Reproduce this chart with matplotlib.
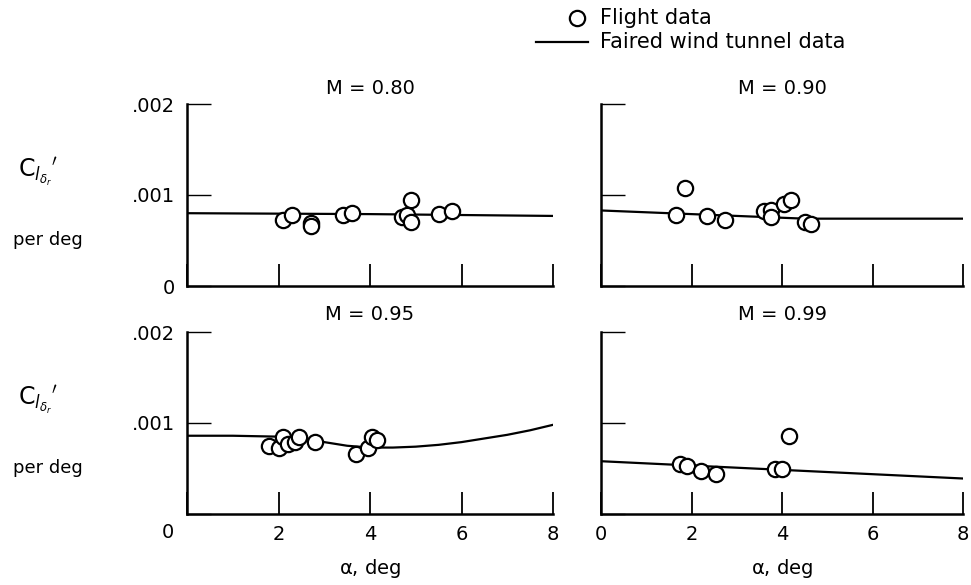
import matplotlib
matplotlib.use("Agg")
import matplotlib.pyplot as plt
from matplotlib.lines import Line2D

plt.rcParams['font.family'] = ['DejaVu Sans']
plt.rcParams['mathtext.fontset'] = 'dejavusans'

# ---- data ----
mach_titles = ["M = 0.80", "M = 0.90", "M = 0.95", "M = 0.99"]

# M = 0.80
flt_a_080 = [2.1, 2.3, 2.7, 2.7, 3.4, 3.6, 4.7, 4.8, 4.9, 4.9, 5.5, 5.8]
flt_c_080 = [0.00072, 0.00078, 0.00069, 0.00066, 0.00078, 0.00080, 0.00076, 0.00078, 0.00095, 0.00070, 0.00079, 0.00082]
wt_a_080 = [0, 2, 4, 6, 8]
wt_c_080 = [0.00080, 0.000795, 0.00079, 0.00078, 0.00077]

# M = 0.90
flt_a_090 = [1.65, 1.85, 2.35, 2.75, 3.6, 3.75, 3.75, 4.05, 4.2, 4.5, 4.65]
flt_c_090 = [0.00078, 0.00108, 0.00077, 0.00072, 0.00082, 0.00083, 0.00076, 0.00090, 0.00094, 0.00070, 0.00068]
wt_a_090 = [0, 1, 2, 3, 4, 4.5, 5, 6, 7, 8]
wt_c_090 = [0.00083, 0.00081, 0.00079, 0.00077, 0.00075, 0.00074, 0.00074, 0.00074, 0.00074, 0.00074]

# M = 0.95
flt_a_095 = [1.8, 2.0, 2.1, 2.2, 2.35, 2.45, 2.8, 3.7, 3.95, 4.05, 4.15]
flt_c_095 = [0.00075, 0.00073, 0.00085, 0.00077, 0.00079, 0.00085, 0.00079, 0.00066, 0.00073, 0.00085, 0.00081]
wt_a_095 = [0, 1, 2, 2.5, 3, 3.5, 4, 4.5, 5, 5.5, 6, 6.5, 7, 7.5, 8]
wt_c_095 = [0.00086, 0.00086, 0.00085, 0.00083, 0.00079, 0.00075, 0.00073, 0.00073, 0.00074, 0.00076, 0.00079, 0.00083, 0.00087, 0.00092, 0.00098]

# M = 0.99
flt_a_099 = [1.75, 1.9, 2.2, 2.55, 3.85, 4.0, 4.15]
flt_c_099 = [0.00055, 0.00053, 0.00047, 0.00044, 0.00050, 0.00050, 0.00086]
wt_a_099 = [0, 8]
wt_c_099 = [0.00058, 0.00039]

x_ticks = [0, 2, 4, 6, 8]
y_ticks = [0, 0.001, 0.002]
y_ticklabels = ["0", ".001", ".002"]

flights = [(flt_a_080, flt_c_080), (flt_a_090, flt_c_090), (flt_a_095, flt_c_095), (flt_a_099, flt_c_099)]
tunnels = [(wt_a_080, wt_c_080), (wt_a_090, wt_c_090), (wt_a_095, wt_c_095), (wt_a_099, wt_c_099)]

W, H = 971, 585
fig = plt.figure(figsize=(W / 100, H / 100), dpi=100)

def box(x0, x1, ytop, ybot):
    return [x0 / W, 1 - ybot / H, (x1 - x0) / W, (ybot - ytop) / H]

rects = [box(187, 553, 104, 286), box(601, 963, 104, 286),
         box(187, 553, 332, 514), box(601, 963, 332, 514)]
title_y = [88, 88, 315, 315]

for i, r in enumerate(rects):
    ax = fig.add_axes(r)
    fa, fc = flights[i]
    ta, tc = tunnels[i]
    ax.plot(ta, tc, color='black', lw=1.6, zorder=2)
    ax.plot(fa, fc, linestyle='none', marker='o', ms=11, mfc='white', mec='black', mew=1.6, zorder=3)
    ax.set_xlim(0, 8)
    ax.set_ylim(0, 0.002)
    for s in ['top', 'right']:
        ax.spines[s].set_visible(False)
    for s in ['left', 'bottom']:
        ax.spines[s].set_linewidth(1.8)
    ax.set_yticks(y_ticks)
    ax.tick_params(axis='y', direction='in', length=17, width=1.0, labelsize=14, pad=9)
    ax.set_xticks(x_ticks)
    ax.tick_params(axis='x', direction='in', length=16, width=1.3, labelsize=14, pad=8)
    cx = (r[0] + r[2] / 2)
    fig.text(cx, 1 - title_y[i] / H, mach_titles[i], fontsize=14, ha='center', va='center')
    if i == 0:
        ax.set_yticklabels(y_ticklabels)
        ax.set_xticklabels([])
    elif i == 1:
        ax.set_yticklabels([])
        ax.set_xticklabels([])
    elif i == 2:
        ax.set_yticklabels(["", ".001", ".002"])
        ax.set_xticklabels(["", "2", "4", "6", "8"])
    else:
        ax.set_yticklabels([])
        ax.set_xticklabels([str(t) for t in x_ticks])

# bottom-left shared "0" and x-axis labels
fig.text(168 / W, 1 - 533 / H, "0", fontsize=14, ha='center', va='center')
fig.text(370 / W, 1 - 568 / H, r"$\mathrm{\alpha}$, deg", fontsize=14, ha='center', va='center')
fig.text(782 / W, 1 - 568 / H, r"$\mathrm{\alpha}$, deg", fontsize=14, ha='center', va='center')

# y labels
for yc, yp in ((172, 240), (400, 468)):
    fig.text(18 / W, 1 - yc / H, r"$\mathrm{C}_{l_{\delta_r}}{}^{\prime}$", fontsize=17, ha='left', va='center')
    fig.text(48 / W, 1 - yp / H, "per deg", fontsize=13, ha='center', va='center')

# legend
fig.add_artist(Line2D([577 / W], [1 - 18 / H], marker='o', ms=11, mfc='white', mec='black', mew=1.6,
                      linestyle='none', transform=fig.transFigure))
fig.add_artist(Line2D([536 / W, 588 / W], [1 - 42 / H, 1 - 42 / H], color='black', lw=1.6,
                      transform=fig.transFigure))
fig.text(600 / W, 1 - 18 / H, "Flight data", fontsize=15, ha='left', va='center')
fig.text(600 / W, 1 - 42 / H, "Faired wind tunnel data", fontsize=15, ha='left', va='center')

fig.savefig("out.png", dpi=100)
